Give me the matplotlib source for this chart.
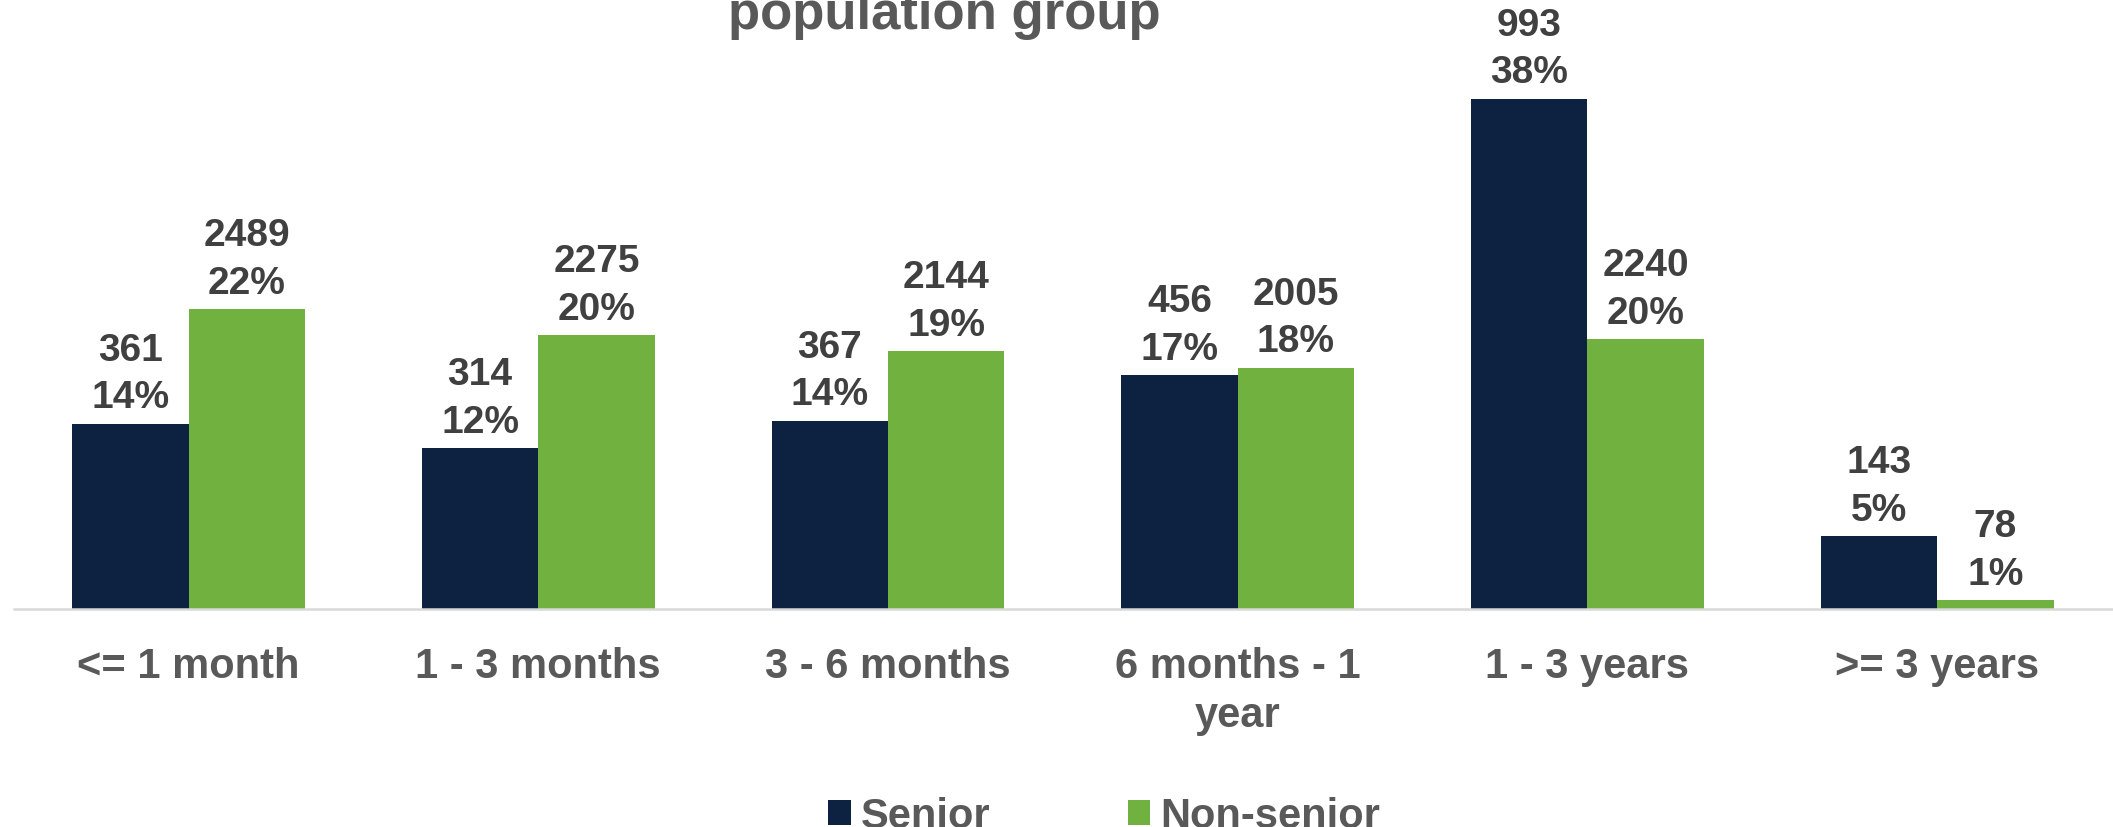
import numpy as np
import matplotlib
matplotlib.use("Agg")
import matplotlib.pyplot as plt

plt.rcParams['font.family'] = ['Liberation Sans', 'DejaVu Sans']
plt.rcParams['font.weight'] = 'bold'

# data
categories = ["<= 1 month", "1 - 3 months", "3 - 6 months",
              "6 months - 1\nyear", "1 - 3 years", ">= 3 years"]
senior = [361, 314, 367, 456, 993, 143]
non_senior = [2489, 2275, 2144, 2005, 2240, 78]
series_names = ["Senior", "Non-senior"]

navy = "#0c2240"
green = "#71b13f"
label_grey = "#404040"
text_grey = "#595959"

# bar heights are each group's share of its own total
senior_share = np.array(senior) / sum(senior)
non_senior_share = np.array(non_senior) / sum(non_senior)

fig = plt.figure(figsize=(21.13, 8.28), dpi=100)
ax = fig.add_axes([0.0065, 0.2627, 0.993, 0.7373])

x = np.arange(len(categories))
w = 0.333
b1 = ax.bar(x - w / 2, senior_share, w, color=navy, label=series_names[0])
b2 = ax.bar(x + w / 2, non_senior_share, w, color=green, label=series_names[1])

for bars, counts, shares in [(b1, senior, senior_share), (b2, non_senior, non_senior_share)]:
    for bar, c, s in zip(bars, counts, shares):
        ax.annotate(f"{c}\n{s:.0%}",
                    xy=(bar.get_x() + bar.get_width() / 2, bar.get_height()),
                    xytext=(0, 6), textcoords="offset points",
                    ha="center", va="bottom", fontsize=28,
                    color=label_grey, linespacing=1.42, fontweight="bold")

ax.set_xlim(-0.5, len(categories) - 0.5)
ax.set_ylim(0, 0.4506)
ax.set_yticks([])
ax.set_xticks(x)
ax.set_xticklabels(categories, fontsize=30, color=text_grey, fontweight="bold",
                   linespacing=1.3)
ax.tick_params(axis="x", length=0, pad=26)
for side in ["top", "left", "right"]:
    ax.spines[side].set_visible(False)
ax.spines["bottom"].set_color("#d9d9d9")
ax.spines["bottom"].set_linewidth(1.8)

# title is partly cut off at the top of the picture
fig.text(0.447, 0.965, "population group", ha="center", va="baseline",
         fontsize=38, color=text_grey, fontweight="bold")

fig.legend(handles=[b1, b2], labels=series_names, loc="center",
           bbox_to_anchor=(0.5225, 0.013), ncol=2, frameon=False,
           fontsize=30, handlelength=0.53, handleheight=0.53,
           handletextpad=0.24, columnspacing=3.3, labelcolor=text_grey)

fig.savefig("out.png", dpi=100)
